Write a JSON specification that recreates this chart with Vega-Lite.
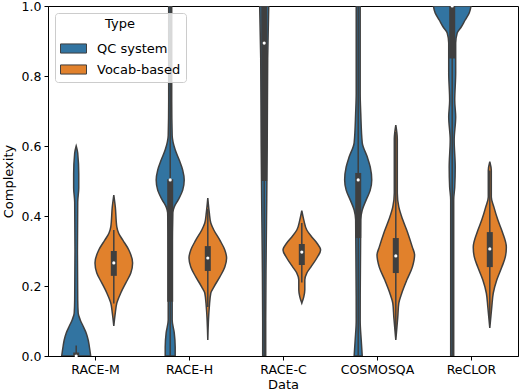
{
  "$schema": "https://vega.github.io/schema/vega-lite/v6.json",
  "width": 470,
  "height": 350,
  "autosize": "none",
  "padding": {"left": 48, "top": 6, "right": 2, "bottom": 36},
  "datasets": {
    "violins": [
      {"Data":"RACE-M","Type":"QC system","y":0.60,"w":0},
      {"Data":"RACE-M","Type":"QC system","y":0.58,"w":0.016},
      {"Data":"RACE-M","Type":"QC system","y":0.52,"w":0.027},
      {"Data":"RACE-M","Type":"QC system","y":0.48,"w":0.027},
      {"Data":"RACE-M","Type":"QC system","y":0.44,"w":0.016},
      {"Data":"RACE-M","Type":"QC system","y":0.30,"w":0.013},
      {"Data":"RACE-M","Type":"QC system","y":0.16,"w":0.016},
      {"Data":"RACE-M","Type":"QC system","y":0.123,"w":0.021},
      {"Data":"RACE-M","Type":"QC system","y":0.103,"w":0.043},
      {"Data":"RACE-M","Type":"QC system","y":0.085,"w":0.074},
      {"Data":"RACE-M","Type":"QC system","y":0.066,"w":0.106},
      {"Data":"RACE-M","Type":"QC system","y":0.045,"w":0.128},
      {"Data":"RACE-M","Type":"QC system","y":0.03,"w":0.138},
      {"Data":"RACE-M","Type":"QC system","y":0.0,"w":0.154},

      {"Data":"RACE-M","Type":"Vocab-based","y":0.46,"w":0},
      {"Data":"RACE-M","Type":"Vocab-based","y":0.426,"w":0.016},
      {"Data":"RACE-M","Type":"Vocab-based","y":0.369,"w":0.032},
      {"Data":"RACE-M","Type":"Vocab-based","y":0.35,"w":0.053},
      {"Data":"RACE-M","Type":"Vocab-based","y":0.331,"w":0.096},
      {"Data":"RACE-M","Type":"Vocab-based","y":0.303,"w":0.16},
      {"Data":"RACE-M","Type":"Vocab-based","y":0.266,"w":0.2},
      {"Data":"RACE-M","Type":"Vocab-based","y":0.237,"w":0.181},
      {"Data":"RACE-M","Type":"Vocab-based","y":0.209,"w":0.128},
      {"Data":"RACE-M","Type":"Vocab-based","y":0.18,"w":0.074},
      {"Data":"RACE-M","Type":"Vocab-based","y":0.151,"w":0.032},
      {"Data":"RACE-M","Type":"Vocab-based","y":0.123,"w":0.016},
      {"Data":"RACE-M","Type":"Vocab-based","y":0.086,"w":0},

      {"Data":"RACE-H","Type":"QC system","y":1.0,"w":0.016},
      {"Data":"RACE-H","Type":"QC system","y":0.73,"w":0.016},
      {"Data":"RACE-H","Type":"QC system","y":0.63,"w":0.021},
      {"Data":"RACE-H","Type":"QC system","y":0.589,"w":0.053},
      {"Data":"RACE-H","Type":"QC system","y":0.56,"w":0.096},
      {"Data":"RACE-H","Type":"QC system","y":0.531,"w":0.133},
      {"Data":"RACE-H","Type":"QC system","y":0.503,"w":0.149},
      {"Data":"RACE-H","Type":"QC system","y":0.474,"w":0.133},
      {"Data":"RACE-H","Type":"QC system","y":0.446,"w":0.085},
      {"Data":"RACE-H","Type":"QC system","y":0.426,"w":0.043},
      {"Data":"RACE-H","Type":"QC system","y":0.409,"w":0.027},
      {"Data":"RACE-H","Type":"QC system","y":0.30,"w":0.021},
      {"Data":"RACE-H","Type":"QC system","y":0.16,"w":0.021},
      {"Data":"RACE-H","Type":"QC system","y":0.103,"w":0.021},
      {"Data":"RACE-H","Type":"QC system","y":0.066,"w":0.043},
      {"Data":"RACE-H","Type":"QC system","y":0.026,"w":0.053},
      {"Data":"RACE-H","Type":"QC system","y":0.0,"w":0.053},

      {"Data":"RACE-H","Type":"Vocab-based","y":0.451,"w":0},
      {"Data":"RACE-H","Type":"Vocab-based","y":0.409,"w":0.016},
      {"Data":"RACE-H","Type":"Vocab-based","y":0.38,"w":0.032},
      {"Data":"RACE-H","Type":"Vocab-based","y":0.36,"w":0.064},
      {"Data":"RACE-H","Type":"Vocab-based","y":0.331,"w":0.128},
      {"Data":"RACE-H","Type":"Vocab-based","y":0.303,"w":0.181},
      {"Data":"RACE-H","Type":"Vocab-based","y":0.28,"w":0.2},
      {"Data":"RACE-H","Type":"Vocab-based","y":0.254,"w":0.181},
      {"Data":"RACE-H","Type":"Vocab-based","y":0.226,"w":0.128},
      {"Data":"RACE-H","Type":"Vocab-based","y":0.197,"w":0.064},
      {"Data":"RACE-H","Type":"Vocab-based","y":0.18,"w":0.032},
      {"Data":"RACE-H","Type":"Vocab-based","y":0.14,"w":0.016},
      {"Data":"RACE-H","Type":"Vocab-based","y":0.046,"w":0},

      {"Data":"RACE-C","Type":"QC system","y":1.0,"w":0.048},
      {"Data":"RACE-C","Type":"QC system","y":0.85,"w":0.037},
      {"Data":"RACE-C","Type":"QC system","y":0.6,"w":0.032},
      {"Data":"RACE-C","Type":"QC system","y":0.45,"w":0.027},
      {"Data":"RACE-C","Type":"QC system","y":0.3,"w":0.021},
      {"Data":"RACE-C","Type":"QC system","y":0.1,"w":0.016},
      {"Data":"RACE-C","Type":"QC system","y":0.0,"w":0.016},

      {"Data":"RACE-C","Type":"Vocab-based","y":0.415,"w":0},
      {"Data":"RACE-C","Type":"Vocab-based","y":0.389,"w":0.021},
      {"Data":"RACE-C","Type":"Vocab-based","y":0.36,"w":0.053},
      {"Data":"RACE-C","Type":"Vocab-based","y":0.34,"w":0.106},
      {"Data":"RACE-C","Type":"Vocab-based","y":0.323,"w":0.16},
      {"Data":"RACE-C","Type":"Vocab-based","y":0.303,"w":0.2},
      {"Data":"RACE-C","Type":"Vocab-based","y":0.28,"w":0.16},
      {"Data":"RACE-C","Type":"Vocab-based","y":0.254,"w":0.096},
      {"Data":"RACE-C","Type":"Vocab-based","y":0.237,"w":0.053},
      {"Data":"RACE-C","Type":"Vocab-based","y":0.217,"w":0.032},
      {"Data":"RACE-C","Type":"Vocab-based","y":0.189,"w":0.032},
      {"Data":"RACE-C","Type":"Vocab-based","y":0.169,"w":0.021},
      {"Data":"RACE-C","Type":"Vocab-based","y":0.151,"w":0},

      {"Data":"COSMOSQA","Type":"QC system","y":1.0,"w":0.021},
      {"Data":"COSMOSQA","Type":"QC system","y":0.75,"w":0.021},
      {"Data":"COSMOSQA","Type":"QC system","y":0.694,"w":0.027},
      {"Data":"COSMOSQA","Type":"QC system","y":0.609,"w":0.043},
      {"Data":"COSMOSQA","Type":"QC system","y":0.569,"w":0.096},
      {"Data":"COSMOSQA","Type":"QC system","y":0.54,"w":0.128},
      {"Data":"COSMOSQA","Type":"QC system","y":0.503,"w":0.144},
      {"Data":"COSMOSQA","Type":"QC system","y":0.474,"w":0.128},
      {"Data":"COSMOSQA","Type":"QC system","y":0.446,"w":0.085},
      {"Data":"COSMOSQA","Type":"QC system","y":0.417,"w":0.043},
      {"Data":"COSMOSQA","Type":"QC system","y":0.389,"w":0.027},
      {"Data":"COSMOSQA","Type":"QC system","y":0.1,"w":0.021},
      {"Data":"COSMOSQA","Type":"QC system","y":0.046,"w":0.032},
      {"Data":"COSMOSQA","Type":"QC system","y":0.0,"w":0.043},

      {"Data":"COSMOSQA","Type":"Vocab-based","y":0.66,"w":0},
      {"Data":"COSMOSQA","Type":"Vocab-based","y":0.62,"w":0.016},
      {"Data":"COSMOSQA","Type":"Vocab-based","y":0.466,"w":0.016},
      {"Data":"COSMOSQA","Type":"Vocab-based","y":0.426,"w":0.032},
      {"Data":"COSMOSQA","Type":"Vocab-based","y":0.389,"w":0.074},
      {"Data":"COSMOSQA","Type":"Vocab-based","y":0.351,"w":0.128},
      {"Data":"COSMOSQA","Type":"Vocab-based","y":0.311,"w":0.176},
      {"Data":"COSMOSQA","Type":"Vocab-based","y":0.289,"w":0.2},
      {"Data":"COSMOSQA","Type":"Vocab-based","y":0.254,"w":0.176},
      {"Data":"COSMOSQA","Type":"Vocab-based","y":0.217,"w":0.117},
      {"Data":"COSMOSQA","Type":"Vocab-based","y":0.18,"w":0.064},
      {"Data":"COSMOSQA","Type":"Vocab-based","y":0.151,"w":0.032},
      {"Data":"COSMOSQA","Type":"Vocab-based","y":0.111,"w":0.021},
      {"Data":"COSMOSQA","Type":"Vocab-based","y":0.046,"w":0},

      {"Data":"ReCLOR","Type":"QC system","y":1.0,"w":0.2},
      {"Data":"ReCLOR","Type":"QC system","y":0.98,"w":0.181},
      {"Data":"ReCLOR","Type":"QC system","y":0.96,"w":0.138},
      {"Data":"ReCLOR","Type":"QC system","y":0.94,"w":0.096},
      {"Data":"ReCLOR","Type":"QC system","y":0.923,"w":0.053},
      {"Data":"ReCLOR","Type":"QC system","y":0.894,"w":0.037},
      {"Data":"ReCLOR","Type":"QC system","y":0.84,"w":0.037},
      {"Data":"ReCLOR","Type":"QC system","y":0.81,"w":0.037},
      {"Data":"ReCLOR","Type":"QC system","y":0.73,"w":0.027},
      {"Data":"ReCLOR","Type":"QC system","y":0.683,"w":0.037},
      {"Data":"ReCLOR","Type":"QC system","y":0.617,"w":0.021},
      {"Data":"ReCLOR","Type":"QC system","y":0.54,"w":0.032},
      {"Data":"ReCLOR","Type":"QC system","y":0.483,"w":0.027},
      {"Data":"ReCLOR","Type":"QC system","y":0.446,"w":0.016},
      {"Data":"ReCLOR","Type":"QC system","y":0.0,"w":0.016},

      {"Data":"ReCLOR","Type":"Vocab-based","y":0.555,"w":0},
      {"Data":"ReCLOR","Type":"Vocab-based","y":0.53,"w":0.016},
      {"Data":"ReCLOR","Type":"Vocab-based","y":0.454,"w":0.016},
      {"Data":"ReCLOR","Type":"Vocab-based","y":0.426,"w":0.043},
      {"Data":"ReCLOR","Type":"Vocab-based","y":0.389,"w":0.085},
      {"Data":"ReCLOR","Type":"Vocab-based","y":0.351,"w":0.138},
      {"Data":"ReCLOR","Type":"Vocab-based","y":0.311,"w":0.176},
      {"Data":"ReCLOR","Type":"Vocab-based","y":0.283,"w":0.165},
      {"Data":"ReCLOR","Type":"Vocab-based","y":0.254,"w":0.128},
      {"Data":"ReCLOR","Type":"Vocab-based","y":0.217,"w":0.074},
      {"Data":"ReCLOR","Type":"Vocab-based","y":0.18,"w":0.037},
      {"Data":"ReCLOR","Type":"Vocab-based","y":0.14,"w":0.021},
      {"Data":"ReCLOR","Type":"Vocab-based","y":0.08,"w":0}
    ],
    "stats": [
      {"Data":"RACE-M","Type":"QC system","q1":0.0,"q3":0.01,"med":0.0,"lo":0.0,"hi":0.03},
      {"Data":"RACE-M","Type":"Vocab-based","q1":0.229,"q3":0.30,"med":0.266,"lo":0.15,"hi":0.36},
      {"Data":"RACE-H","Type":"QC system","q1":0.155,"q3":0.505,"med":0.503,"lo":0.0,"hi":1.0},
      {"Data":"RACE-H","Type":"Vocab-based","q1":0.243,"q3":0.314,"med":0.28,"lo":0.14,"hi":0.42},
      {"Data":"RACE-C","Type":"QC system","q1":0.5,"q3":1.0,"med":0.894,"lo":0.0,"hi":1.0},
      {"Data":"RACE-C","Type":"Vocab-based","q1":0.26,"q3":0.32,"med":0.297,"lo":0.21,"hi":0.38},
      {"Data":"COSMOSQA","Type":"QC system","q1":0.337,"q3":0.523,"med":0.503,"lo":0.0,"hi":1.0},
      {"Data":"COSMOSQA","Type":"Vocab-based","q1":0.237,"q3":0.337,"med":0.286,"lo":0.06,"hi":0.64},
      {"Data":"ReCLOR","Type":"QC system","q1":0.85,"q3":1.0,"med":1.0,"lo":0.0,"hi":1.0},
      {"Data":"ReCLOR","Type":"Vocab-based","q1":0.254,"q3":0.354,"med":0.306,"lo":0.1,"hi":0.53}
    ]
  },
  "layer": [
    {
      "data": {"name": "violins"},
      "transform": [
        {"calculate": "indexof(['RACE-M','RACE-H','RACE-C','COSMOSQA','ReCLOR'], datum.Data) + (datum.Type === 'QC system' ? -0.2 : 0.2)", "as": "center"},
        {"calculate": "datum.center - datum.w", "as": "xl"},
        {"calculate": "datum.center + datum.w", "as": "xr"}
      ],
      "mark": {"type": "area", "orient": "horizontal", "interpolate": "monotone", "stroke": "#3f3f3f", "strokeWidth": 1.5, "opacity": 1, "clip": true},
      "encoding": {
        "y": {"field": "y", "type": "quantitative", "title": "Complexity",
              "scale": {"domain": [0, 1], "nice": false, "zero": false},
              "axis": {"values": [0, 0.2, 0.4, 0.6, 0.8, 1.0], "format": ".1f"}},
        "x": {"field": "xl", "type": "quantitative", "title": "Data",
              "scale": {"domain": [-0.5, 4.5], "nice": false, "zero": false},
              "axis": {"values": [0, 1, 2, 3, 4], "labelExpr": "['RACE-M','RACE-H','RACE-C','COSMOSQA','ReCLOR'][datum.value]"}},
        "x2": {"field": "xr"},
        "color": {"field": "Type", "type": "nominal", "title": "Type",
                  "scale": {"domain": ["QC system", "Vocab-based"], "range": ["#3274a1", "#e1812c"]}},
        "detail": {"field": "Data"}
      }
    },
    {
      "data": {"name": "stats"},
      "transform": [
        {"calculate": "indexof(['RACE-M','RACE-H','RACE-C','COSMOSQA','ReCLOR'], datum.Data) + (datum.Type === 'QC system' ? -0.2 : 0.2)", "as": "center"}
      ],
      "mark": {"type": "rule", "color": "#3f3f3f", "strokeWidth": 1.5, "clip": true},
      "encoding": {
        "x": {"field": "center", "type": "quantitative", "title": "Data"},
        "y": {"field": "lo", "type": "quantitative", "title": "Complexity"},
        "y2": {"field": "hi"}
      }
    },
    {
      "data": {"name": "stats"},
      "transform": [
        {"calculate": "indexof(['RACE-M','RACE-H','RACE-C','COSMOSQA','ReCLOR'], datum.Data) + (datum.Type === 'QC system' ? -0.2 : 0.2)", "as": "center"}
      ],
      "mark": {"type": "rule", "color": "#3f3f3f", "strokeWidth": 6, "clip": true},
      "encoding": {
        "x": {"field": "center", "type": "quantitative", "title": "Data"},
        "y": {"field": "q1", "type": "quantitative", "title": "Complexity"},
        "y2": {"field": "q3"}
      }
    },
    {
      "data": {"name": "stats"},
      "transform": [
        {"calculate": "indexof(['RACE-M','RACE-H','RACE-C','COSMOSQA','ReCLOR'], datum.Data) + (datum.Type === 'QC system' ? -0.2 : 0.2)", "as": "center"}
      ],
      "mark": {"type": "circle", "color": "white", "size": 10, "opacity": 1},
      "encoding": {
        "x": {"field": "center", "type": "quantitative", "title": "Data"},
        "y": {"field": "med", "type": "quantitative", "title": "Complexity"}
      }
    }
  ],
  "config": {
    "font": "DejaVu Sans",
    "view": {"stroke": "black", "strokeWidth": 1},
    "axis": {
      "grid": false,
      "domainColor": "black",
      "tickColor": "black",
      "labelColor": "black",
      "titleColor": "black",
      "labelFontSize": 12.5,
      "titleFontSize": 13,
      "titleFontWeight": "normal",
      "tickSize": 4,
      "labelPadding": 3
    },
    "axisX": {"titlePadding": 3, "labelAngle": 0},
    "axisY": {"titlePadding": 6},
    "legend": {
      "orient": "top-left",
      "offset": 7,
      "padding": 5,
      "fillColor": "rgba(255,255,255,0.8)",
      "strokeColor": "#cccccc",
      "cornerRadius": 3,
      "titleFontSize": 13,
      "titleFontWeight": "normal",
      "titleAnchor": "middle",
      "titleColor": "black",
      "titlePadding": 4,
      "labelFontSize": 13,
      "labelColor": "black",
      "labelOffset": 10,
      "symbolType": "M-1,-0.35H1V0.35H-1Z",
      "symbolSize": 676,
      "symbolStrokeColor": "#3f3f3f",
      "symbolStrokeWidth": 1,
      "symbolOpacity": 1,
      "rowPadding": -6
    }
  }
}
